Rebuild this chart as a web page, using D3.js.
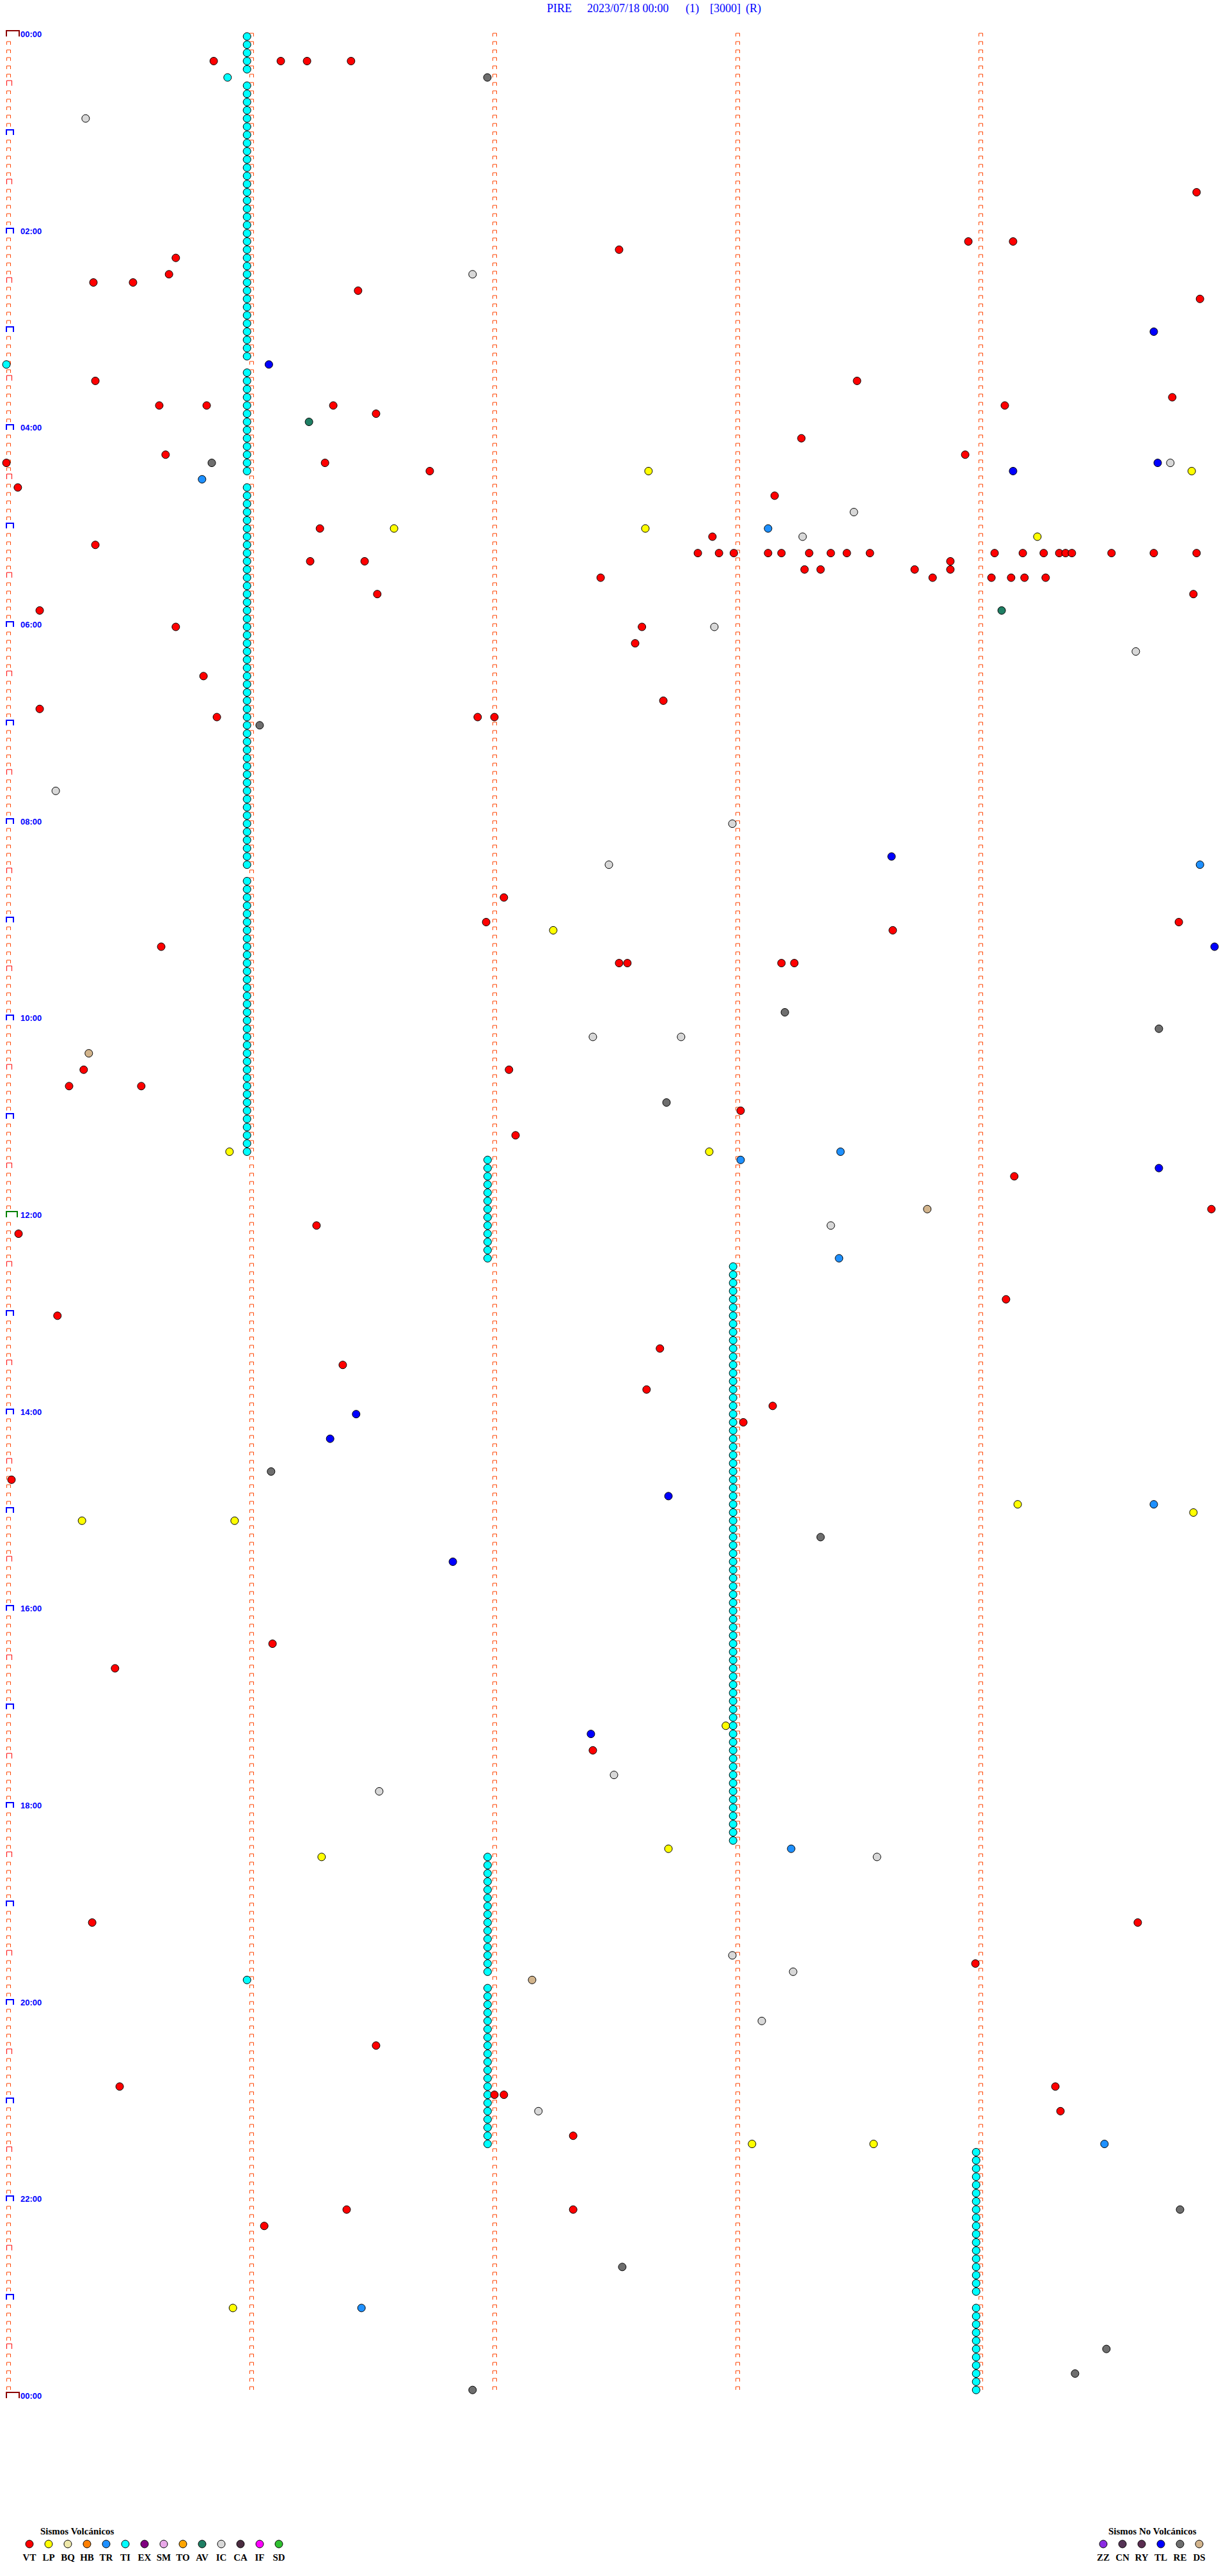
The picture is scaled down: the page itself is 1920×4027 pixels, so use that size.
<!DOCTYPE html>
<html><head><meta charset="utf-8">
<script src="https://cdn.jsdelivr.net/npm/d3@7"></script>
<style>body{margin:0;background:#fff}svg{display:block}</style>
</head><body>
<script>
// ---- data (times in minutes since 00:00, 5-minute rows) ----
const titleParts = ["PIRE", "2023/07/18 00:00", "(1)", "[3000]", "(R)"];
const hourLabels = ["00:00","02:00","04:00","06:00","08:00","10:00","12:00","14:00","16:00","18:00","20:00","22:00","00:00"];
const volcanicTypes = ["VT","LP","BQ","HB","TR","TI","EX","SM","TO","AV","IC","CA","IF","SD"];
const volcanicColors = ["#ff0000","#ffff00","#eee8aa","#ff8000","#1e90ff","#00ffff","#800080","#e8a8e8","#ffa500","#1f7f64","#d8d8d8","#4a2c40","#ff00ff","#30c030"];
const nonVolcanicTypes = ["ZZ","CN","RY","TL","RE","DS"];
const nonVolcanicColors = ["#8a2be2","#553355","#5a2d50","#0000ff","#6e6e6e","#d2b48c"];

const vtTimes = [15.853,16.129,16.237,16.418,99.897,128.958,129.142,132.521,135.697,145.669,150.358,150.521,156.447,164.911,210.366,213.5,224.797,225.629,225.824,226.345,229.108,231.521,248.271,255.655,258.945,260.0,261.311,266.742,275.047,283.161,301.29,307.905,310.366,
317.845,317.932,317.993,318.134,318.189,318.303,318.392,318.458,318.553,319.066,319.182,319.268,319.332,319.358,319.384,319.547,319.721,319.897,
321.25,321.474,323.884,328.284,328.35,328.737,328.884,332.445,333.811,334.053,334.134,334.189,334.276,341.526,344.884,350.137,360.697,362.615,372.587,390.811,407.703,410.137,415.866,416.939,417.008,527.047,541.974,544.824,548.647,555.637,567.521,567.555,568.189,568.242,630.318,632.068,640.258,640.555,658.021,672.095,699.147,719.958,726.276,730.05,774.113,780.21,802.689,811.384,827.634,838.153,848.032,880.021,981.095,995.447,1047.413,1150.353,1154.655,1178.987,1226.521,1250.466,1254.316,1257.008,1257.047,1269.337,1282.332,1326.4,1327.332,1336.061];
const lpTimes = [267.642,269.877,301.595,302.629,309.242,547.25,680.918,682.892,899.161,904.884,905.311,905.939,1032.96,1107.724,1111.297,1288.068,1288.568,1385.932];
const trTimes = [270.805,303.134,509.911,683.432,688.021,748.426,899.721,1108.229,1289.518,1386.461];
const tlTimes = [184.721,201.08,264.737,269.142,503.642,559.971,694.742,841.439,856.332,892.724,931.837,1037.405];
const icTimes = [50.326,146.918,264.789,293.487,308.276,362.913,379.647,460.203,482.987,507.479,612.413,612.776,728.392,1062.5,1071.534,1113.582,1172.987,1183.237,1213.108,1267.189];
const reTimes = [26.979,260.845,421.042,598.203,609.742,652.716,876.089,918.35,1329.829,1362.534,1414.526,1429.397,1436.918];
const avTimes = [236.245,354.095];
const dsTimes = [620.339,718.789,1187.163];
const tiTimes = [0.99,5.99,10.99,15.99,20.99,25.91,30.99,35.99,40.99,45.99,50.99,55.99,60.99,65.99,70.99,75.99,80.99,85.99,90.99,95.99,100.99,105.99,110.99,115.99,120.99,125.99,130.99,135.99,140.99,145.99,150.99,155.99,160.99,165.99,170.99,175.99,180.99,185.99,190.99,195.99,
200.0,205.99,210.99,215.99,220.99,225.99,230.99,235.99,240.99,245.99,250.99,255.99,260.99,265.99,
275.99,280.99,285.99,290.99,295.99,300.99,305.99,310.99,315.99,320.99,325.99,330.99,335.99,340.99,345.99,350.99,355.99,360.99,365.99,370.99,375.99,380.99,385.99,390.99,395.99,400.99,405.99,410.99,415.99,420.99,425.99,430.99,435.99,440.99,445.99,450.99,455.99,460.99,465.99,470.99,475.99,480.99,485.99,490.99,495.99,500.99,505.99,
515.99,520.99,525.99,530.99,535.99,540.99,545.99,550.99,555.99,560.99,565.99,570.99,575.99,580.99,585.99,590.99,595.99,600.99,605.99,610.99,615.99,620.99,625.99,630.99,635.99,640.99,645.99,650.99,655.99,660.99,665.99,670.99,675.99,680.99,
686.98,691.98,696.98,701.98,706.98,711.98,716.98,721.98,726.98,731.98,736.98,741.98,746.98,
752.99,757.99,762.99,767.99,772.99,777.99,782.99,787.99,792.99,797.99,802.99,807.99,812.99,817.99,822.99,827.99,832.99,837.99,842.99,847.99,852.99,857.99,862.99,867.99,872.99,877.99,882.99,887.99,892.99,897.99,902.99,907.99,912.99,917.99,922.99,927.99,932.99,937.99,942.99,947.99,952.99,957.99,962.99,967.99,972.99,977.99,982.99,987.99,992.99,997.99,1002.99,1007.99,1012.99,1017.99,1022.99,1027.99,1032.99,1037.99,1042.99,1047.99,1052.99,1057.99,1062.99,1067.99,1072.99,1077.99,1082.99,1087.99,1092.99,1097.99,1102.99,
1111.98,1116.98,1121.98,1126.98,1131.98,1136.98,1141.98,1146.98,1151.98,1156.98,1161.98,1166.98,1171.98,1176.98,1181.98,1185.99,
1191.98,1196.98,1201.98,1206.98,1211.98,1216.98,1221.98,1226.98,1231.98,1236.98,1241.98,1246.98,1251.98,1256.98,1261.98,1266.98,1271.98,1276.98,1281.98,1286.98,
1293.99,1298.99,1303.99,1308.99,1313.99,1318.99,1323.99,1328.99,1333.99,1338.99,1343.99,1348.99,1353.99,1358.99,1363.99,1368.99,1373.99,1378.99,1388.99,1393.99,1398.99,1403.99,1408.99,1413.99,1418.99,1423.99,1428.99,1433.99,1438.99];

// ---- build ----
const W = 1920, H = 4027, ROWS = 288, ROWMIN = 5;
const svg = d3.select("body").append("svg").attr("width", W).attr("height", H);
svg.append("rect").attr("width", W).attr("height", H).attr("fill", "#fff");

const y = d3.scaleLinear().domain([0, ROWS]).range([57, 3749]);
const x = d3.scaleLinear().domain([0, ROWMIN]).range([10, 1910]);

// title
const titleX = [855, 918, 1072, 1110, 1166];
svg.append("g").selectAll("text").data(titleParts).join("text")
  .attr("x", (d, i) => titleX[i]).attr("y", 19)
  .attr("font-family", "'Liberation Serif','Times New Roman',serif").attr("font-size", 18)
  .attr("fill", "#0000ff").text(d => d);

// minute markers
const mk = svg.append("g").attr("fill", "none");
const rowsIdx = d3.range(ROWS);
for (let c = 1; c < ROWMIN; c++) {
  mk.append("path").attr("stroke", "#ff4500").attr("stroke-width", 1)
    .attr("d", rowsIdx.map(r => { const x0 = Math.round(x(c)) + 0.5, yb = Math.round(y(r)); return `M${x0},${yb}V${yb-5}H${x0+6}V${yb}`; }).join(""));
}
rowsIdx.concat([ROWS]).forEach(r => {
  const yb = Math.round(y(r)), x0 = Math.round(x(0));
  if (r % 144 === 0) {
    const col = r === 144 ? "#008000" : "#8b0000";
    const w = r === 144 ? 17 : 20;
    mk.append("path").attr("stroke", col).attr("stroke-width", 2)
      .attr("d", `M${x0},${yb}V${yb-9}H${x0+w}V${yb}`);
  } else if (r % 12 === 0) {
    mk.append("path").attr("stroke", "#0000ff").attr("stroke-width", 2)
      .attr("d", `M${x0},${yb}V${yb-8}H${x0+11}V${yb}`);
  } else if (r % 6 === 0) {
    mk.append("path").attr("stroke", "#ff0000").attr("stroke-width", 1)
      .attr("d", `M${x0+0.5},${yb}V${yb-8}H${x0+8.5}V${yb}`);
  } else {
    mk.append("path").attr("stroke", "#ff4500").attr("stroke-width", 1)
      .attr("d", `M${x0+0.5},${yb}V${yb-5}H${x0+6.5}V${yb}`);
  }
});

// hour labels
svg.append("g").selectAll("text").data(hourLabels).join("text")
  .attr("x", 32).attr("y", (d, i) => Math.round(y(i * 24)) + 1)
  .attr("font-family", "'Liberation Sans',Arial,sans-serif").attr("font-size", 13).attr("font-weight", "bold")
  .attr("fill", "#0000ff").text(d => d);

// events
const color = {};
volcanicTypes.forEach((t, i) => color[t] = volcanicColors[i]);
nonVolcanicTypes.forEach((t, i) => color[t] = nonVolcanicColors[i]);
const events = [];
[["VT", vtTimes], ["LP", lpTimes], ["TR", trTimes], ["TL", tlTimes], ["IC", icTimes], ["RE", reTimes], ["AV", avTimes], ["DS", dsTimes], ["TI", tiTimes]]
  .forEach(([t, arr]) => arr.forEach(v => events.push({ type: t, t: v })));
events.sort((a, b) => a.t - b.t);
events.forEach(e => { e.row = Math.floor(e.t / ROWMIN + 1e-9); e.m = e.t - e.row * ROWMIN; });

svg.append("g").selectAll("circle").data(events).join("circle")
  .attr("cx", d => x(d.m)).attr("cy", d => y(d.row))
  .attr("r", 6).attr("fill", d => color[d.type]).attr("stroke", "#000").attr("stroke-width", 1);

// legends
function legend(types, x0, titleX0, title) {
  const g = svg.append("g");
  const lx = d3.scaleLinear().domain([0, 1]).range([x0, x0 + 30]);
  g.append("text").attr("x", titleX0).attr("y", 3962)
    .attr("font-family", "'Liberation Serif','Times New Roman',serif").attr("font-size", 15).attr("font-weight", "bold")
    .attr("fill", "#000").text(title);
  g.selectAll("circle").data(types).join("circle")
    .attr("cx", (d, i) => lx(i)).attr("cy", 3977).attr("r", 6)
    .attr("fill", d => color[d]).attr("stroke", "#000").attr("stroke-width", 1);
  g.selectAll("text.l").data(types).join("text").attr("class", "l")
    .attr("x", (d, i) => lx(i)).attr("y", 4003).attr("text-anchor", "middle")
    .attr("font-family", "'Liberation Serif','Times New Roman',serif").attr("font-size", 15).attr("font-weight", "bold")
    .attr("fill", "#000").text(d => d);
}
legend(volcanicTypes, 46, 63, "Sismos Volcánicos");
legend(nonVolcanicTypes, 1725, 1733, "Sismos No Volcánicos");
</script>
</body></html>
